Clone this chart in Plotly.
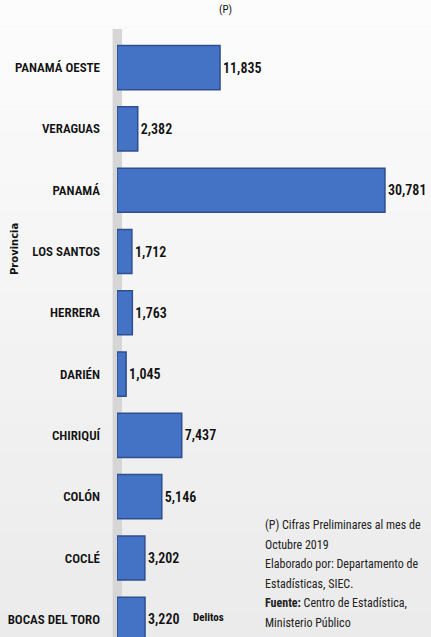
import plotly.graph_objects as go

provincias = ["PANAMÁ OESTE", "VERAGUAS", "PANAMÁ", "LOS SANTOS", "HERRERA",
              "DARIÉN", "CHIRIQUÍ", "COLÓN", "COCLÉ", "BOCAS DEL TORO"]
delitos = [11835, 2382, 30781, 1712, 1763, 1045, 7437, 5146, 3202, 3220]
etiquetas = [f"{v:,}" for v in delitos]
pos = list(range(len(provincias)))

nota_lineas = ["(P) Cifras Preliminares al mes de", "Octubre 2019",
               "Elaborado por: Departamento de", "Estadísticas, SIEC.",
               "<b>Fuente:</b> Centro de Estadística,", "Ministerio Público"]

FONT = "Liberation Sans Narrow, Roboto Condensed, Liberation Sans, Arial"

fig = go.Figure()
fig.add_trace(go.Bar(
    x=delitos, y=pos, orientation="h", width=0.72,
    marker=dict(color="#4472C4", line=dict(color="#2F4F8F", width=1.5)),
    text=etiquetas, textposition="outside", cliponaxis=False,
    textfont=dict(family=FONT, size=14, color="#111111", weight=600),
))

H, T = 637, 37
PH = H - T
def py(pix):
    return 1 - (pix - T) / PH

annotations = [
    dict(text="<b>Provincia</b>", textangle=-90, xref="paper", yref="paper",
         x=(15 - 117) / 314, y=py(249), xanchor="center", yanchor="middle",
         showarrow=False,
         font=dict(family="DejaVu Sans", size=10, color="#111111")),
    dict(text="<b>Delitos</b>", xref="paper", yref="paper",
         x=(208 - 117) / 314, y=py(617), xanchor="center", yanchor="middle",
         showarrow=False,
         font=dict(family=FONT, size=11, color="#111111")),
    dict(text="(P)", xref="paper", yref="paper", x=(225 - 117) / 314, y=py(1),
         xanchor="center", yanchor="top", showarrow=False,
         font=dict(family=FONT, size=11, color="#111111")),
]
for i, linea in enumerate(nota_lineas):
    annotations.append(dict(
        text=linea, xref="paper", yref="paper", x=(263 - 117) / 314,
        y=py(525 + 19.5 * i), xanchor="left", yanchor="middle",
        align="left", showarrow=False,
        font=dict(family=FONT, size=12, color="#222222")))

# background gradient bands (paper coordinates)
shapes = []
n = 24
for k in range(n):
    t = k / (n - 1)
    g = int(round(252 - (252 - 235) * t))
    shapes.append(dict(type="rect", xref="paper", yref="paper",
                       x0=-117 / 314 - 0.01, x1=1.01,
                       y0=py(H * (k + 1) / n), y1=py(H * k / n),
                       fillcolor=f"rgb({g},{g},{g})", line=dict(width=0),
                       layer="below"))
shapes.append(dict(type="rect", xref="paper", yref="paper",
                   x0=-0.014, x1=0.016, y0=0, y1=py(29),
                   fillcolor="#d6d6d6", line=dict(width=0), layer="below"))

fig.update_layout(
    width=431, height=H,
    margin=dict(l=117, r=0, t=T, b=0),
    paper_bgcolor="#f2f2f2", plot_bgcolor="rgba(0,0,0,0)",
    showlegend=False,
    font=dict(family=FONT, color="#111111"),
    xaxis=dict(range=[0, 36070], showgrid=False, zeroline=False,
               showticklabels=False, showline=False),
    yaxis=dict(range=[9.29, -0.5], tickvals=pos, ticktext=provincias,
               showgrid=False, zeroline=False, ticks="", showline=False,
               ticklabelstandoff=16,
               tickfont=dict(family=FONT, size=13, color="#111111", weight=600)),
    shapes=shapes,
    annotations=annotations,
)

fig.write_html("out.html", config={"displayModeBar": False},
               post_script="document.body.style.margin='0';document.body.style.overflow='hidden';")
